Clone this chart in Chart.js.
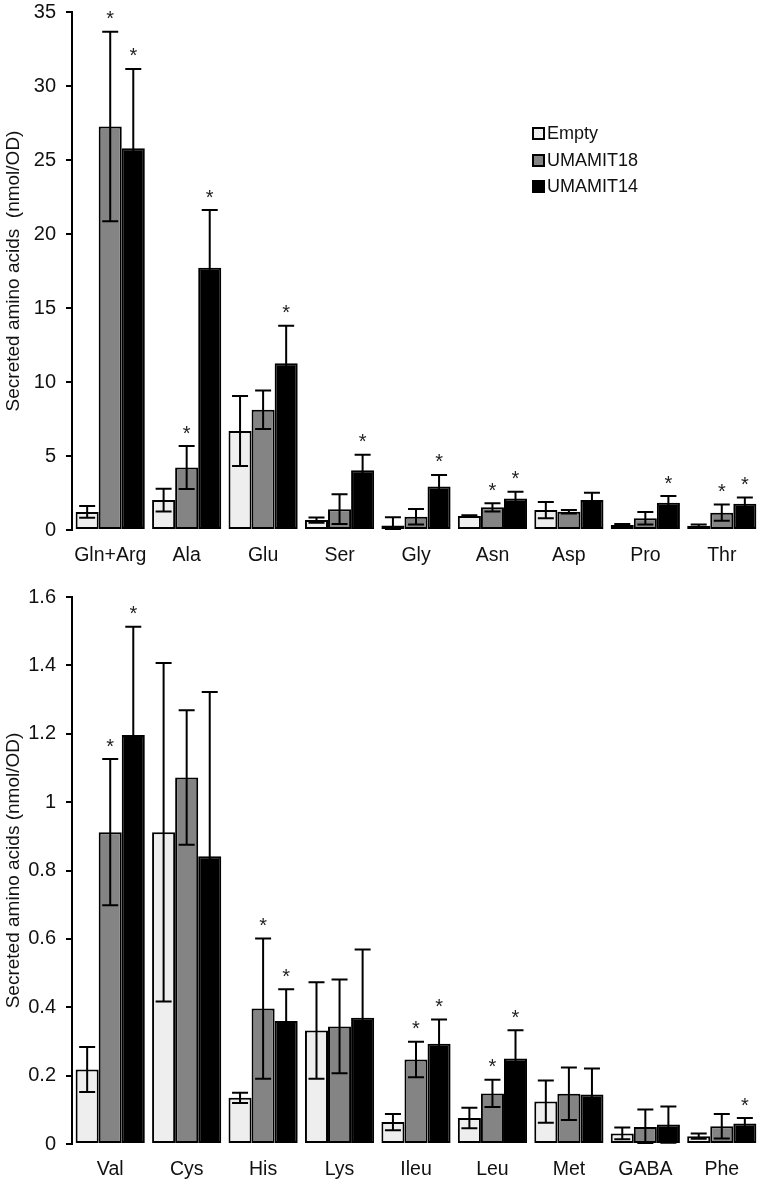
<!DOCTYPE html>
<html>
<head>
<meta charset="utf-8">
<script src="https://cdn.jsdelivr.net/npm/chart.js@4.4.1/dist/chart.umd.min.js"></script>
<style>
  html, body { margin: 0; padding: 0; background: #fff; overflow: hidden; }
  .wrap { position: absolute; left: 0; width: 760px; }
  #w1 { top: -10px; height: 580px; }
  #w2 { top: 570px; height: 612px; }
</style>
</head>
<body>
<div class="wrap" id="w1"><canvas id="c1"></canvas></div>
<div class="wrap" id="w2"><canvas id="c2"></canvas></div>
<script>
// ---------- DATA ----------
const seriesNames = ['Empty', 'UMAMIT18', 'UMAMIT14'];

const cats1 = ['Gln+Arg', 'Ala', 'Glu', 'Ser', 'Gly', 'Asn', 'Asp', 'Pro', 'Thr'];
const empty1 = [1.22, 2.02, 6.69, 0.67, 0.31, 0.94, 1.35, 0.34, 0.29];
const empty1Err = [0.40, 0.77, 2.37, 0.18, 0.55, 0.05, 0.55, 0.07, 0.08];
const u18_1 = [27.26, 4.22, 8.12, 1.41, 0.90, 1.53, 1.23, 0.79, 1.17];
const u18_1Err = [6.40, 1.45, 1.30, 1.00, 0.52, 0.28, 0.12, 0.42, 0.55];
const u14_1 = [25.80, 17.72, 11.26, 4.04, 2.94, 2.13, 2.02, 1.84, 1.77];
const u14_1Err = [5.35, 3.90, 2.54, 1.05, 0.78, 0.45, 0.49, 0.45, 0.43];
const empty1Sig = [0, 0, 0, 0, 0, 0, 0, 0, 0];
const u18_1Sig = [1, 1, 0, 0, 0, 1, 0, 0, 1];
const u14_1Sig = [1, 1, 1, 1, 1, 1, 0, 1, 1];
const yTicks1 = [0, 5, 10, 15, 20, 25, 30, 35];

const cats2 = ['Val', 'Cys', 'His', 'Lys', 'Ileu', 'Leu', 'Met', 'GABA', 'Phe'];
const empty2 = [0.218, 0.912, 0.135, 0.332, 0.064, 0.076, 0.124, 0.031, 0.023];
const empty2Err = [0.066, 0.495, 0.015, 0.141, 0.024, 0.030, 0.062, 0.017, 0.008];
const u18_2 = [0.912, 1.072, 0.396, 0.344, 0.247, 0.148, 0.147, 0.050, 0.052];
const u18_2Err = [0.214, 0.197, 0.205, 0.137, 0.052, 0.040, 0.077, 0.051, 0.036];
const u14_2 = [1.196, 0.842, 0.360, 0.369, 0.293, 0.250, 0.145, 0.057, 0.060];
const u14_2Err = [0.317, 0.480, 0.093, 0.200, 0.071, 0.083, 0.076, 0.053, 0.016];
const empty2Sig = [0, 0, 0, 0, 0, 0, 0, 0, 0];
const u18_2Sig = [1, 0, 1, 0, 1, 1, 0, 0, 0];
const u14_2Sig = [1, 0, 1, 0, 1, 1, 0, 0, 1];
const yTicks2 = [0, 0.2, 0.4, 0.6, 0.8, 1, 1.2, 1.4, 1.6];

const yTitle1 = 'Secreted amino acids  (nmol/OD)';
const yTitle2 = 'Secreted amino acids (nmol/OD)';

// ---------- STYLE ----------
const fills = ['#eeeeee', '#848484', '#000000'];
const FONT = "'Liberation Sans', Arial, sans-serif";

const errPlugin = {
  id: 'errbars',
  afterDatasetsDraw(chart) {
    const ctx = chart.ctx;
    const ys = chart.scales.y;
    const area = chart.chartArea;
    ctx.save();
    chart.data.datasets.forEach((ds, i) => {
      const meta = chart.getDatasetMeta(i);
      meta.data.forEach((el, j) => {
        const v = ds.data[j], e = ds.err[j];
        const x = el.x;
        const yT = ys.getPixelForValue(v + e);
        const yB = Math.min(ys.getPixelForValue(v - e), area.bottom);
        ctx.save();
        ctx.beginPath();
        ctx.rect(area.left, area.top - 40, area.right - area.left, area.bottom - area.top + 40);
        ctx.clip();
        ctx.strokeStyle = '#000';
        ctx.lineWidth = 2;
        ctx.beginPath();
        ctx.moveTo(x, yT); ctx.lineTo(x, yB);
        ctx.moveTo(x - 8, yT); ctx.lineTo(x + 8, yT);
        ctx.moveTo(x - 8, yB); ctx.lineTo(x + 8, yB);
        ctx.stroke();
        ctx.restore();
        if (ds.sig[j]) {
          ctx.fillStyle = '#222';
          ctx.font = '20px ' + FONT;
          ctx.textAlign = 'center';
          ctx.textBaseline = 'middle';
          ctx.fillText('*', x, yT - 12);
        }
      });
    });
    ctx.restore();
  }
};

const legendPlugin = {
  id: 'customLegend',
  afterDraw(chart, args, opts) {
    if (!opts.show) return;
    const ctx = chart.ctx;
    ctx.save();
    const rows = [143, 170, 196]; // canvas coords (canvas shifted up by 10px)
    seriesNames.forEach((name, i) => {
      const y = rows[i];
      ctx.fillStyle = fills[i];
      ctx.fillRect(533, y - 5, 11, 11);
      ctx.strokeStyle = '#000';
      ctx.lineWidth = 2;
      ctx.strokeRect(533, y - 5, 11, 11);
      ctx.fillStyle = '#111';
      ctx.font = '18px ' + FONT;
      ctx.textAlign = 'left';
      ctx.textBaseline = 'middle';
      ctx.fillText(name, 547, y + 1);
    });
    ctx.restore();
  }
};

function makeChart(id, cats, vals, errs, sigs, yTicks, ymax, title, padTop, xH, showLegend) {
  const datasets = seriesNames.map((n, i) => ({
    label: n,
    data: vals[i],
    err: errs[i],
    sig: sigs[i],
    backgroundColor: fills[i],
    borderColor: '#000',
    borderWidth: 2,
    borderSkipped: false,
    categoryPercentage: 0.905,
    barPercentage: 1.0
  }));
  return new Chart(document.getElementById(id), {
    type: 'bar',
    data: { labels: cats, datasets },
    options: {
      responsive: true,
      maintainAspectRatio: false,
      animation: false,
      layout: { padding: { top: padTop, right: 0, left: 0, bottom: 0 } },
      plugins: {
        legend: { display: false },
        tooltip: { enabled: false },
        customLegend: { show: showLegend }
      },
      scales: {
        x: {
          grid: { display: false },
          border: { display: false },
          ticks: { color: '#111', font: { size: 19.5, family: FONT }, padding: 6, maxRotation: 0 },
          afterFit(s) { s.height = xH; }
        },
        y: {
          min: 0, max: ymax,
          afterBuildTicks(s) { s.ticks = yTicks.map(v => ({ value: v })); },
          grid: { display: true, drawOnChartArea: false, drawTicks: true, tickLength: 6, color: '#000', lineWidth: 2 },
          border: { display: true, color: '#000', width: 2 },
          ticks: {
            color: '#111', font: { size: 20, family: FONT }, padding: 10,
            callback: v => String(Number(v.toFixed(2)))
          },
          title: { display: true, text: title, color: '#111', font: { size: 19, family: FONT }, padding: { top: 2, bottom: 0 } },
          afterFit(s) { s.width = 72; }
        }
      }
    },
    plugins: [errPlugin, legendPlugin]
  });
}

makeChart('c1', cats1, [empty1, u18_1, u14_1], [empty1Err, u18_1Err, u14_1Err],
  [empty1Sig, u18_1Sig, u14_1Sig], yTicks1, 35, yTitle1, 10, 40, true);
makeChart('c2', cats2, [empty2, u18_2, u14_2], [empty2Err, u18_2Err, u14_2Err],
  [empty2Sig, u18_2Sig, u14_2Sig], yTicks2, 1.6, yTitle2, 27, 38, false);
</script>
</body>
</html>
